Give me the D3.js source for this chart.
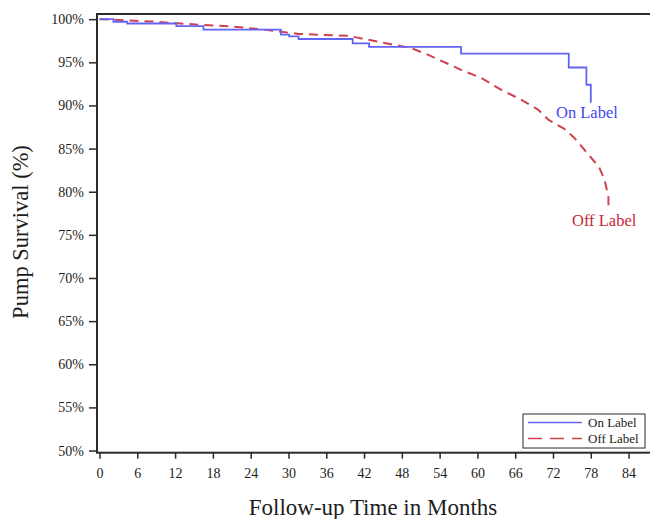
<!DOCTYPE html>
<html>
<head>
<meta charset="utf-8">
<script src="https://cdn.jsdelivr.net/npm/d3@7"></script>
<style>
  html, body { margin: 0; padding: 0; background: #fff; }
  #chart { width: 650px; height: 519px; }
</style>
</head>
<body>
<div id="chart"></div>
<script>
// ── Data ─────────────────────────────────────────────────────────
const onTime  = [0, 2.2, 4.4, 12.2, 16.5, 28.8, 30.1, 31.6, 40.2, 42.8, 57.4, 74.5, 77.3, 78.0];
const onSurv  = [100, 99.7, 99.5, 99.2, 98.8, 98.2, 98.0, 97.7, 97.2, 96.8, 96.0, 94.4, 92.4, 90.3];

const offTime = [0, 8.1, 16.2, 21.3, 26.4, 31.6, 39.6, 42.3, 46.8, 49.5, 52.2, 56.3, 57.4,
                 60.6, 63.8, 67.0, 69.7, 71.3, 73.8, 75.4, 77.0, 79.3, 80.2, 80.8, 80.8];
const offSurv = [100, 99.74, 99.34, 99.14, 98.76, 98.29, 98.06, 97.66, 97.02, 96.64, 95.86, 94.5, 94.12,
                 93.19, 91.8, 90.64, 89.48, 88.32, 87.28, 86.23, 84.84, 82.87, 81.36, 79.39, 77.88];

const xTicks = [0, 6, 12, 18, 24, 30, 36, 42, 48, 54, 60, 66, 72, 78, 84];
const yTicks = [50, 55, 60, 65, 70, 75, 80, 85, 90, 95, 100];

const seriesNames = ["On Label", "Off Label"];

const serif = "'Liberation Serif', 'DejaVu Serif', serif";

const colors = {
  on:    "#6464f4",
  off:   "#d2404e",
  onTxt: "#4646ee",
  offTxt:"#c8283a",
  axis:  "#2b2b2b",
  text:  "#1C1D21",
};

const totalW = 650, totalH = 519;
const margin = { top: 14, right: 0, bottom: 66.3, left: 97 };
const width  = totalW - margin.left - margin.right;
const height = totalH - margin.top - margin.bottom;

const svg = d3.select("#chart")
  .append("svg")
  .attr("width", totalW)
  .attr("height", totalH)
  .style("font-family", serif);

const g = svg.append("g")
  .attr("transform", `translate(${margin.left},${margin.top})`);

const x = d3.scaleLinear().domain([-0.4, 87.4]).range([0, width]);
const y = d3.scaleLinear().domain([49.75, 100.6]).range([height, 0]);

// ── Frame ────────────────────────────────────────────────────────
g.append("rect")
  .attr("x", 0).attr("y", 0)
  .attr("width", width + 4).attr("height", height)
  .attr("fill", "none")
  .attr("stroke", colors.axis)
  .attr("stroke-width", 2);

// ── Axes ─────────────────────────────────────────────────────────
g.append("g")
  .attr("transform", `translate(0,${height})`)
  .call(d3.axisBottom(x).tickValues(xTicks).tickSize(6).tickPadding(9).tickFormat(d3.format("d")))
  .call(a => a.select(".domain").remove())
  .call(a => a.selectAll("line").attr("stroke", colors.axis).attr("stroke-width", 1.5))
  .call(a => a.selectAll("text")
    .style("font-family", serif)
    .style("font-size", "14px")
    .attr("fill", colors.text));

g.append("g")
  .call(d3.axisLeft(y).tickValues(yTicks).tickSize(8).tickPadding(5).tickFormat(d => d + "%"))
  .call(a => a.select(".domain").remove())
  .call(a => a.selectAll("line").attr("stroke", colors.axis).attr("stroke-width", 1.5))
  .call(a => a.selectAll("text")
    .style("font-family", serif)
    .style("font-size", "14px")
    .attr("fill", colors.text));

// ── Axis titles ──────────────────────────────────────────────────
svg.append("text")
  .attr("x", 373).attr("y", 515)
  .attr("text-anchor", "middle")
  .style("font-family", serif)
  .style("font-size", "23px")
  .attr("fill", colors.text)
  .text("Follow-up Time in Months");

svg.append("text")
  .attr("transform", `translate(28,232) rotate(-90)`)
  .attr("text-anchor", "middle")
  .style("font-family", serif)
  .style("font-size", "22.5px")
  .attr("fill", colors.text)
  .text("Pump Survival (%)");

// ── Curves ───────────────────────────────────────────────────────
const onData  = onTime.map((t, i) => [x(t), y(onSurv[i])]);
const offData = offTime.map((t, i) => [x(t), y(offSurv[i])]);

g.append("path")
  .datum(offData)
  .attr("fill", "none")
  .attr("stroke", colors.off)
  .attr("stroke-width", 2)
  .attr("stroke-dasharray", "9,6")
  .attr("d", d3.line());

g.append("path")
  .datum(onData)
  .attr("fill", "none")
  .attr("stroke", colors.on)
  .attr("stroke-width", 1.8)
  .attr("d", d3.line().curve(d3.curveStepAfter));

// ── Curve labels ─────────────────────────────────────────────────
svg.append("text")
  .attr("x", 556).attr("y", 118)
  .style("font-family", serif)
  .style("font-size", "16.5px")
  .attr("fill", colors.onTxt)
  .text(seriesNames[0]);

svg.append("text")
  .attr("x", 572).attr("y", 226)
  .style("font-family", serif)
  .style("font-size", "16.5px")
  .attr("fill", colors.offTxt)
  .text(seriesNames[1]);

// ── Legend ───────────────────────────────────────────────────────
const legend = svg.append("g").attr("transform", "translate(523,414)");
legend.append("rect")
  .attr("width", 122).attr("height", 34)
  .attr("fill", "#fff")
  .attr("stroke", colors.axis)
  .attr("stroke-width", 1);

[[colors.on, null], [colors.off, "14,8"]].forEach(([c, dash], i) => {
  const ly = 8.5 + i * 16;
  legend.append("line")
    .attr("x1", 5).attr("x2", 59)
    .attr("y1", ly).attr("y2", ly)
    .attr("stroke", c)
    .attr("stroke-width", 1.6)
    .attr("stroke-dasharray", dash);
  legend.append("text")
    .attr("x", 65).attr("y", ly + 4)
    .style("font-family", serif)
    .style("font-size", "13px")
    .attr("fill", colors.text)
    .text(seriesNames[i]);
});
</script>
</body>
</html>
